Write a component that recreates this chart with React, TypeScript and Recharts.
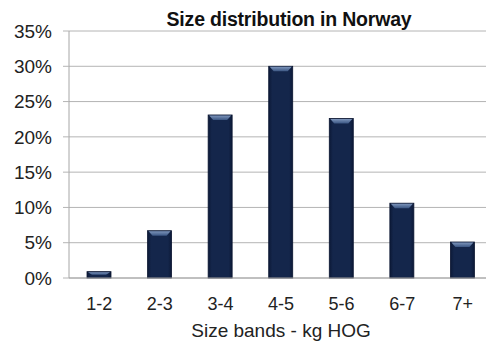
import React from 'react'
import { Bar, BarChart, CartesianGrid, XAxis, YAxis } from 'recharts'

const bands = ['1-2', '2-3', '3-4', '4-5', '5-6', '6-7', '7+']
const shares = [0.9, 6.7, 23.1, 30.0, 22.6, 10.6, 5.1]
const yTicks = [0, 5, 10, 15, 20, 25, 30, 35]
const bandEdges = [0, 1, 2, 3, 4, 5, 6, 7]

const data = bands.map((band, i) => ({ band, share: shares[i] }))

const FONT = '"Liberation Sans", Arial, sans-serif'

// navy column with a lighter bevel along the top
function BevelBar(props: any) {
  const { x, y, width, height } = props
  if (!height || height <= 0) return null
  const bevel = Math.min(5, height / 2)
  const inset = Math.min(5, width / 4)
  return (
    <g>
      <rect x={x} y={y} width={width} height={height} fill="url(#barBody)" stroke="#0a1530" strokeWidth={0.8} />
      <polygon
        points={`${x + 1},${y + 0.5} ${x + width - 1},${y + 0.5} ${x + width - inset},${y + bevel} ${x + inset},${y + bevel}`}
        fill="url(#barBevel)"
      />
    </g>
  )
}

export default function App() {
  return (
    <div style={{ position: 'fixed', left: 0, top: 0, width: 486, height: 342, overflow: 'hidden', background: '#fff' }}>
      <div
        style={{
          position: 'absolute',
          left: 0,
          width: 578,
          top: 8,
          textAlign: 'center',
          fontFamily: FONT,
          fontWeight: 'bold',
          fontSize: 19.5,
          letterSpacing: -0.2,
          color: '#111',
        }}
      >
        Size distribution in Norway
      </div>
      <BarChart
        width={500}
        height={342}
        data={data}
        margin={{ top: 31, right: 7, bottom: 0, left: 0 }}
        barCategoryGap="30%"
      >
        <defs>
          <linearGradient id="barBody" x1="0" y1="0" x2="1" y2="0">
            <stop offset="0%" stopColor="#0c1937" />
            <stop offset="15%" stopColor="#14264b" />
            <stop offset="85%" stopColor="#14264b" />
            <stop offset="100%" stopColor="#0c1937" />
          </linearGradient>
          <linearGradient id="barBevel" x1="0" y1="0" x2="0" y2="1">
            <stop offset="0%" stopColor="#7d95bb" />
            <stop offset="100%" stopColor="#3b5683" />
          </linearGradient>
        </defs>
        <CartesianGrid vertical={false} stroke="#b4b4b4" strokeWidth={1} />
        <XAxis
          xAxisId="edges"
          type="number"
          domain={[0, 7]}
          ticks={bandEdges}
          allowDataOverflow
          height={0}
          tick={false}
          axisLine={false}
          tickLine={{ stroke: '#a6a6a6' }}
          tickSize={6}
        />
        <XAxis
          dataKey="band"
          height={64}
          tickLine={false}
          tickSize={6}
          tickMargin={13}
          axisLine={{ stroke: '#a6a6a6' }}
          tick={{ fill: '#222', fontSize: 18, fontFamily: FONT }}
          label={{
            value: 'Size bands - kg HOG',
            position: 'insideBottom',
            offset: 5,
            fill: '#222',
            fontSize: 19,
            fontFamily: FONT,
          }}
        />
        <YAxis
          width={69}
          domain={[0, 35]}
          ticks={yTicks}
          tickFormatter={(v) => `${v}%`}
          tickSize={6}
          tickMargin={11}
          axisLine={{ stroke: '#a6a6a6' }}
          tickLine={{ stroke: '#b4b4b4' }}
          tick={{ fill: '#222', fontSize: 19, fontFamily: FONT }}
        />
        <Bar dataKey="share" barSize={24} shape={<BevelBar />} isAnimationActive={false} />
      </BarChart>
    </div>
  )
}
